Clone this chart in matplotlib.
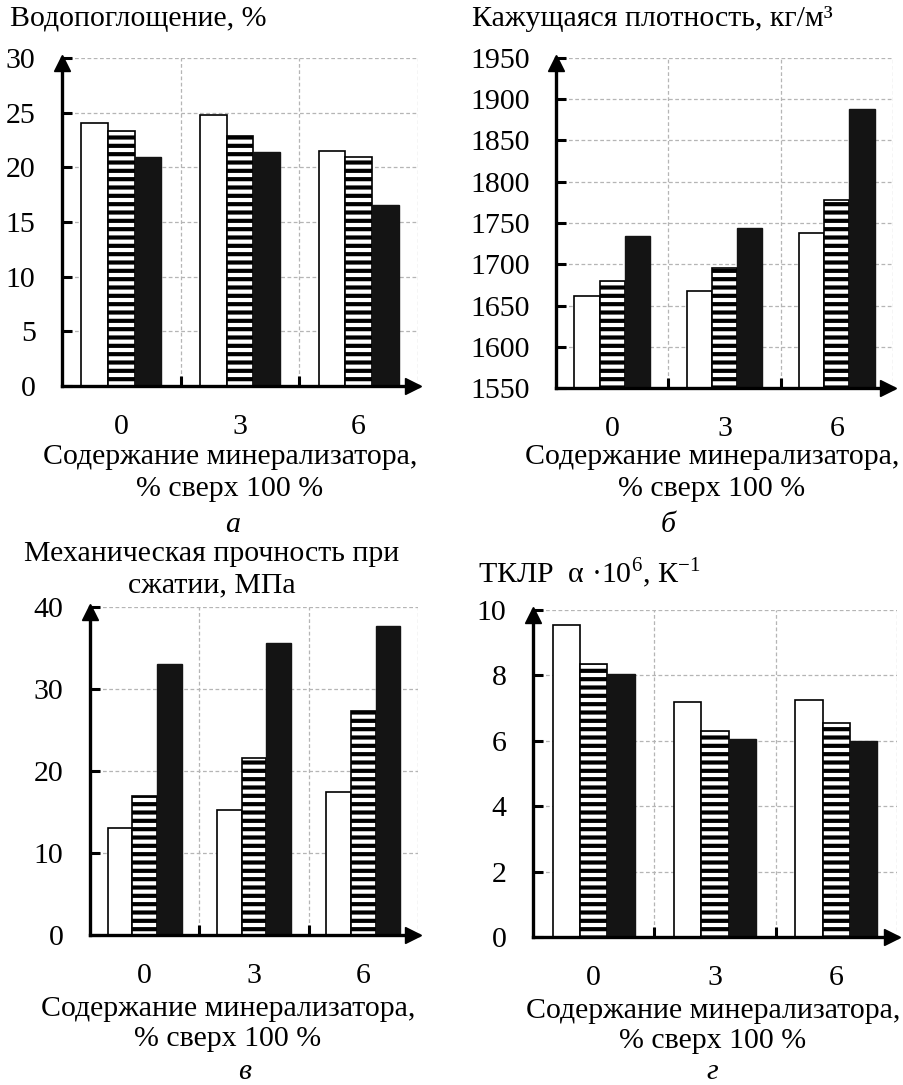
import numpy as np
import matplotlib
matplotlib.use("Agg")
import matplotlib.pyplot as plt

plt.rcParams['font.family'] = ['Liberation Serif', 'DejaVu Serif']
plt.rcParams['mathtext.fontset'] = 'custom'
plt.rcParams['mathtext.rm'] = 'Liberation Serif'
plt.rcParams['hatch.linewidth'] = 3.0

W, H = 904, 1085
FS = 21.5

# ---- дані ----
categories = ["0", "3", "6"]

water_white = [24.1, 24.8, 21.5]
water_striped = [23.3, 22.9, 20.9]
water_black = [20.9, 21.4, 16.6]

density_white = [1662, 1668, 1738]
density_striped = [1680, 1696, 1778]
density_black = [1734, 1744, 1888]

strength_white = [13.0, 15.2, 17.5]
strength_striped = [17.0, 21.6, 27.3]
strength_black = [33.0, 35.6, 37.7]

tclr_white = [9.55, 7.2, 7.25]
tclr_striped = [8.35, 6.3, 6.55]
tclr_black = [8.05, 6.05, 6.0]

xlabel = "Содержание минерализатора,\n% сверх 100 %"


def px_axes(fig, left, top, right, bottom):
    """Осі за піксельними координатами"""
    return fig.add_axes([left / W, 1 - bottom / H, (right - left) / W, (bottom - top) / H])


def ftext(fig, x, y, s, **kw):
    fig.text(x / W, 1 - y / H, s, fontsize=FS, **kw)


def draw_panel(ax, white, striped, black, ylim, yticks):
    x = np.arange(len(categories))
    w = 0.225
    base = ylim[0]
    ax.bar(x - w, np.array(white) - base, w, bottom=base, color="white",
           edgecolor="black", linewidth=1.2, zorder=3)
    ax.bar(x, np.array(striped) - base, w, bottom=base, color="white",
           edgecolor="black", hatch="--", linewidth=1.2, zorder=3)
    ax.bar(x + w, np.array(black) - base, w, bottom=base, color="#141414",
           edgecolor="#141414", linewidth=1.0, zorder=3)

    ax.set_xlim(-0.5, 2.5)
    ax.set_ylim(*ylim)
    ax.set_yticks(yticks)
    ax.set_xticks(x)
    ax.set_xticklabels(categories)
    ax.set_xticks([0.5, 1.5], minor=True)

    # сітка
    for yv in yticks[1:]:
        ax.axhline(yv, color="#b5b5b5", lw=0.9, ls=(0, (3, 2)), zorder=1)
    for xv in [0.5, 1.5, 2.5]:
        ax.axvline(xv, color="#b5b5b5", lw=0.9, ls=(0, (3, 2)), zorder=1)

    for s in ["top", "right"]:
        ax.spines[s].set_visible(False)
    for s in ["left", "bottom"]:
        ax.spines[s].set_linewidth(2.4)
        ax.spines[s].set_zorder(4)

    ax.tick_params(axis="y", direction="in", length=7, width=2.2, pad=19, labelsize=FS)
    ax.tick_params(axis="x", which="major", length=0, pad=20, labelsize=FS)
    ax.tick_params(axis="x", which="minor", direction="in", length=7, width=2.2)

    # стрілки осей
    ax.plot(0, 0.985, marker="^", color="black", markersize=11, transform=ax.transAxes, clip_on=False, zorder=5)
    ax.plot(0.985, 0, marker=">", color="black", markersize=11, transform=ax.transAxes, clip_on=False, zorder=5)


fig = plt.figure(figsize=(W / 100, H / 100), dpi=100)

# а
ax1 = px_axes(fig, 62, 58, 418, 386)
draw_panel(ax1, water_white, water_striped, water_black, (0, 30), [0, 5, 10, 15, 20, 25, 30])
ftext(fig, 10, 19, "Водопоглощение, %", ha="left", va="center")
ftext(fig, 230, 473, xlabel, ha="center", va="center", linespacing=1.25)
ftext(fig, 233, 525, "а", ha="center", va="center", style="italic")

# б
ax2 = px_axes(fig, 556, 58, 893, 388)
draw_panel(ax2, density_white, density_striped, density_black, (1550, 1950),
           list(range(1550, 1951, 50)))
ftext(fig, 472, 19, "Кажущаяся плотность, кг/м³", ha="left", va="center")
ftext(fig, 712, 473, xlabel, ha="center", va="center", linespacing=1.25)
ftext(fig, 668, 525, "б", ha="center", va="center", style="italic")

# в
ax3 = px_axes(fig, 90, 607, 418, 935)
draw_panel(ax3, strength_white, strength_striped, strength_black, (0, 40), [0, 10, 20, 30, 40])
ftext(fig, 212, 570, "Механическая прочность при\nсжатии, МПа", ha="center", va="center", linespacing=1.25)
ftext(fig, 228, 1024, xlabel, ha="center", va="center", linespacing=1.25)
ftext(fig, 245, 1072, "в", ha="center", va="center", style="italic")

# г
ax4 = px_axes(fig, 533, 610, 897, 937)
draw_panel(ax4, tclr_white, tclr_striped, tclr_black, (0, 10), [0, 2, 4, 6, 8, 10])
ftext(fig, 478, 573, "ТКЛР  α ·10$^{6}$, К$^{-1}$", ha="left", va="center")
ftext(fig, 713, 1026, xlabel, ha="center", va="center", linespacing=1.25)
ftext(fig, 712, 1072, "г", ha="center", va="center", style="italic")

fig.savefig("out.png", dpi=100)
